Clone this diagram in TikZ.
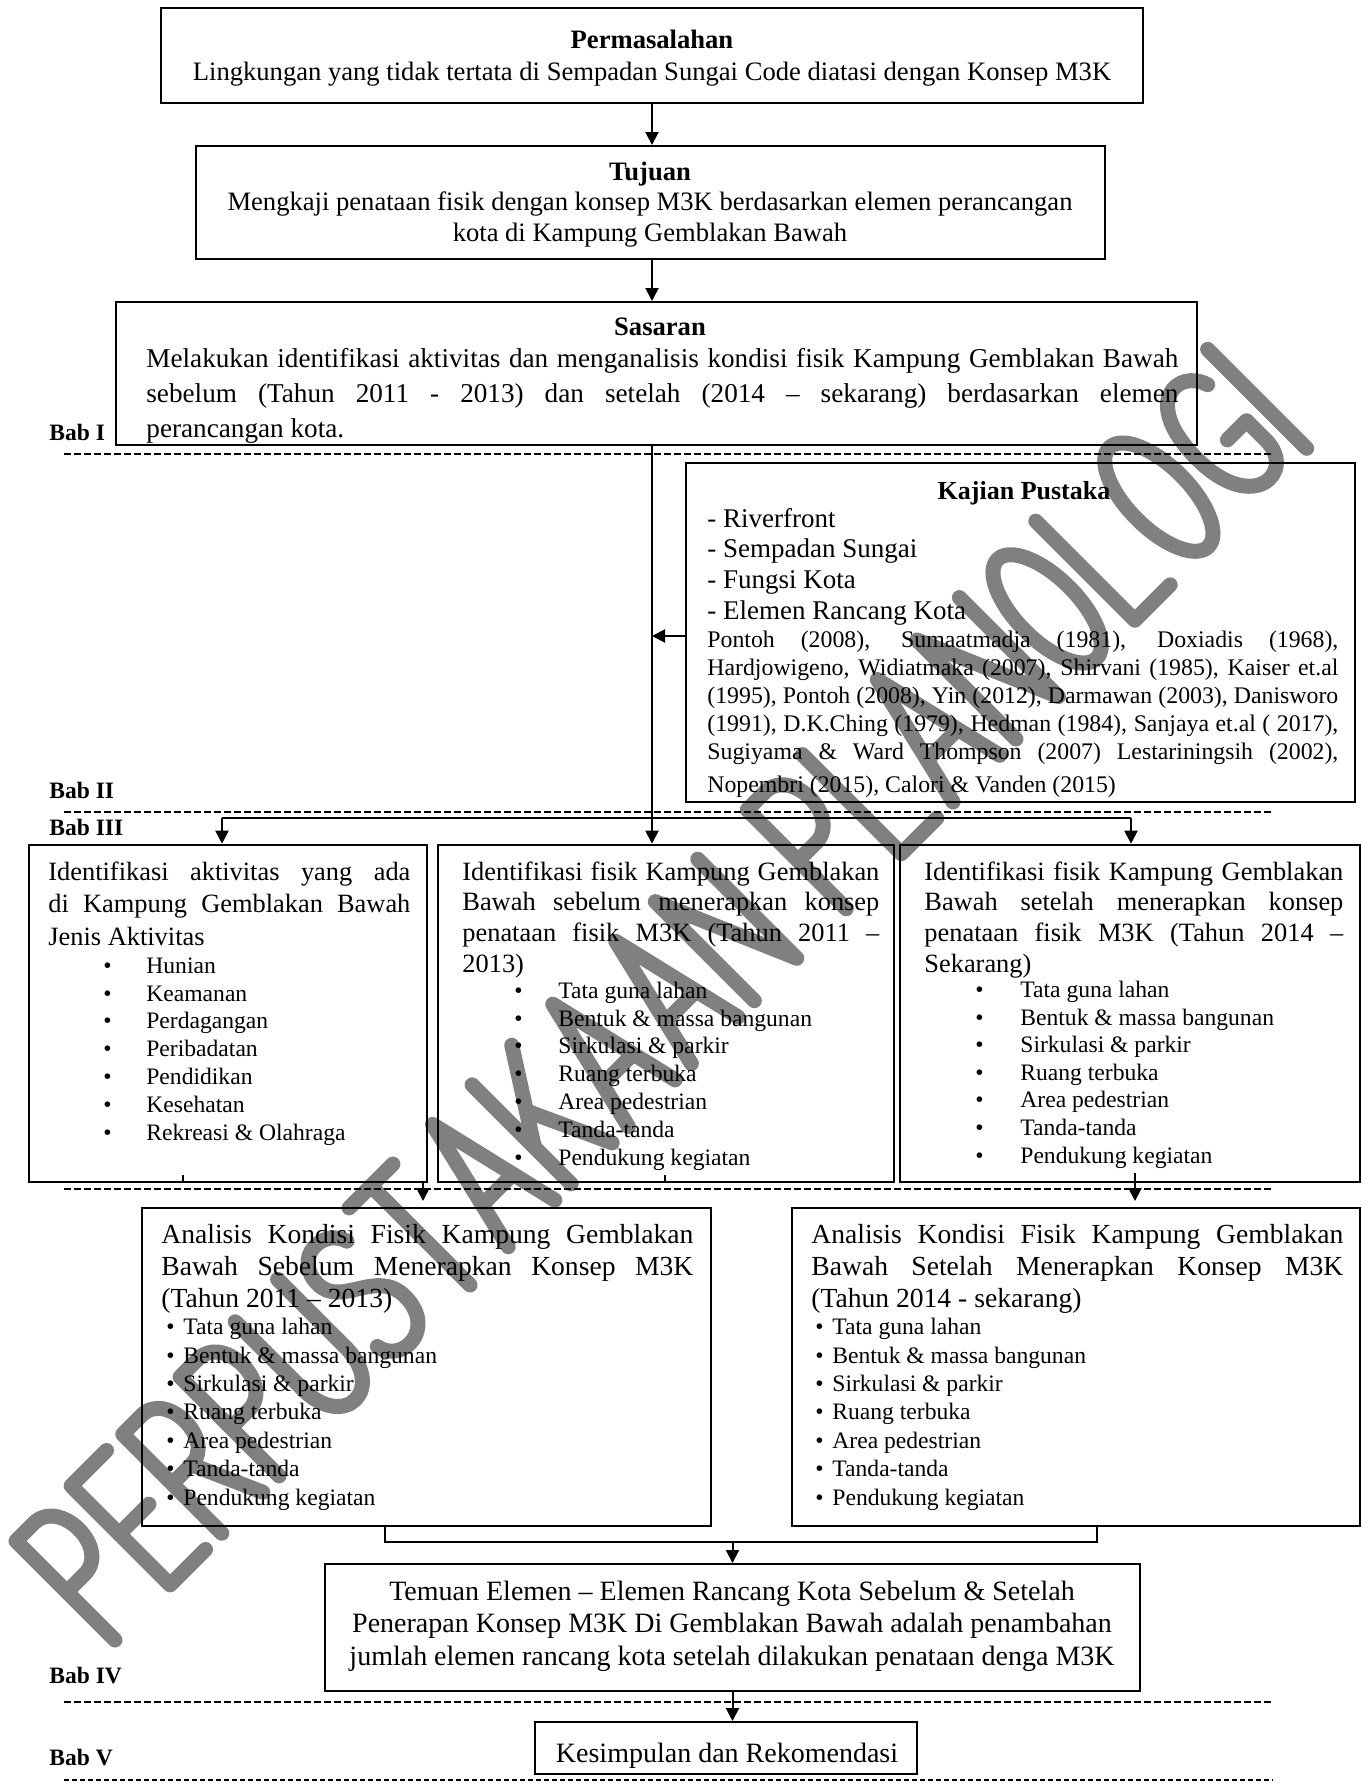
\documentclass[tikz,border=0pt]{standalone}
\usepackage{fontspec}
\setmainfont{Liberation Serif}
\usetikzlibrary{arrows.meta,fit}
\newcommand\J[2]{\makebox[#1][s]{#2}}
\newcommand\fz[2]{\fontsize{#1}{#2}\selectfont}
\newcommand\bl[1]{\makebox[#1][l]{•}}
\tikzset{
  wm/.style={draw=gray, line width=7.5pt, line cap=round, line join=round},
  box/.style={draw, line width=1pt, inner sep=0pt},
  tbox/.style={draw, line width=1.3pt, inner sep=0pt},
  arr/.style={line width=1pt, -{Triangle[length=6.5pt,width=6.5pt]}},
  ln/.style={line width=1pt},
  dashline/.style={line width=1pt, dash pattern=on 3.3pt off 1.7pt},
  txt/.style={inner sep=0pt, align=left},
  bab/.style={inner sep=0pt, anchor=base west, font=\bfseries\fz{11.75}{14}}
}
\newcommand\wmP{\draw[wm] (0,0)--(0,140)--(25,140) .. controls (62,140) and (62,68) .. (25,68) -- (0,68);}
\newcommand\wmE{\draw[wm] (50,140)--(0,140)--(0,0)--(50,0); \draw[wm] (0,72)--(42,72);}
\newcommand\wmR{\draw[wm] (0,0)--(0,140)--(27,140) .. controls (62,140) and (62,70) .. (27,70) -- (0,70); \draw[wm] (27,70)--(58,0);}
\newcommand\wmU{\draw[wm] (0,140)--(0,45) .. controls (0,-15) and (60,-15) .. (60,45) -- (60,140);}
\newcommand\wmS{\draw[wm] (53,118) .. controls (45,145) and (2,145) .. (2,108) .. controls (2,75) and (55,78) .. (55,38) .. controls (55,-8) and (5,-8) .. (0,22);}
\newcommand\wmT{\draw[wm] (0,140)--(62,140); \draw[wm] (31,140)--(31,0);}
\newcommand\wmA{\draw[wm] (0,0)--(33,140)--(66,0); \draw[wm] (13,48)--(53,48);}
\newcommand\wmK{\draw[wm] (0,0)--(0,140); \draw[wm] (56,140)--(0,52); \draw[wm] (20,83)--(58,0);}
\newcommand\wmN{\draw[wm] (0,0)--(0,140)--(60,0)--(60,140);}
\newcommand\wmL{\draw[wm] (0,140)--(0,0)--(50,0);}
\newcommand\wmO{\draw[wm] (31,0) .. controls (48,0) and (62,31) .. (62,70) .. controls (62,109) and (48,140) .. (31,140) .. controls (14,140) and (0,109) .. (0,70) .. controls (0,31) and (14,0) .. (31,0) -- cycle;}
\newcommand\wmG{\draw[wm] (60,115) .. controls (50,148) and (0,150) .. (0,70) .. controls (0,-10) and (62,-10) .. (62,35) -- (62,62) -- (35,62);}
\newcommand\wmI{\draw[wm] (0,0)--(0,140);}
\newcommand\wmat[2]{\begin{scope}[shift={(#1,0)}]#2\end{scope}}
\begin{document}
\begin{tikzpicture}[x=0.5pt,y=-0.5pt]
\useasboundingbox (0,0) rectangle (1362,1783);
\fill[white] (0,0) rectangle (1362,1783);
% watermark
\begin{scope}[shift={(115,1640)}, x={(0.3536pt,0.3536pt)}, y={(-0.3536pt,0.3536pt)}]
\wmat{0}{\wmP}\wmat{78}{\wmE}\wmat{151}{\wmR}\wmat{232}{\wmP}\wmat{310}{\wmU}
\wmat{393}{\wmS}\wmat{471}{\wmT}\wmat{556}{\wmA}\wmat{645}{\wmK}\wmat{726}{\wmA}
\wmat{815}{\wmA}\wmat{904}{\wmN}
\wmat{1034}{\wmP}\wmat{1112}{\wmL}\wmat{1185}{\wmA}\wmat{1274}{\wmN}\wmat{1357}{\wmO}
\wmat{1442}{\wmL}\wmat{1515}{\wmO}\wmat{1600}{\wmG}\wmat{1685}{\wmI}
\end{scope}

% dashed separators
\coordinate (dl1) at (64,454); \coordinate (dr1) at (1273,454);
\coordinate (dl2) at (64,812); \coordinate (dr2) at (1273,812);
\coordinate (dl3) at (64,1189); \coordinate (dr3) at (1273,1189);
\coordinate (dl4) at (64,1702); \coordinate (dr4) at (1273,1702);
\coordinate (dl5) at (64,1780); \coordinate (dr5) at (1273,1780);
\draw[dashline] (dl1) -- (dr1);
\draw[dashline] (dl2) -- (dr2);
\draw[dashline] (dl3) -- (dr3);
\draw[dashline] (dl4) -- (dr4);
\draw[line width=0.7pt, dash pattern=on 2.5pt off 1.5pt] (dl5) -- (dr5);

% Bab labels
\node[bab] (b1) at (49,440) {Bab I};
\node[bab] (b2) at (49,798) {Bab II};
\node[bab] (b3) at (49,835) {Bab III};
\node[bab] (b4) at (49,1683) {Bab IV};
\node[bab] (b5) at (49,1765) {Bab V};

% Permasalahan
\node[box, fit={(161,8) (1143,103)}] (perm) {};
\node[txt, align=center, anchor=base, font=\fz{13.3}{16}] (permt) at (652,80)
  {\textbf{Permasalahan}\\Lingkungan yang tidak tertata di Sempadan Sungai Code diatasi dengan Konsep M3K};

% Tujuan
\node[box, fit={(196,146) (1105,259)}] (tuj) {};
\node[txt, align=center, anchor=base, font=\fz{13.3}{15.25}] (tujt) at (650,241)
  {\textbf{Tujuan}\\Mengkaji penataan fisik dengan konsep M3K berdasarkan elemen perancangan\\kota di Kampung Gemblakan Bawah};

% Sasaran
\node[box, fit={(116,302) (1197,445)}] (sas) {};
\node[txt, anchor=base, font=\bfseries\fz{13.3}{16}] (sast) at (660,335) {Sasaran};
\node[txt, anchor=base west, font=\fz{13.6}{17.5}] (sasb) at (146,437)
  {\J{516pt}{Melakukan identifikasi aktivitas dan menganalisis kondisi fisik Kampung Gemblakan Bawah}\\
   \J{516pt}{sebelum (Tahun 2011 - 2013) dan setelah (2014 – sekarang) berdasarkan elemen}\\
   perancangan kota.};

% Kajian Pustaka
\node[box, fit={(686,463) (1355,802)}] (kaj) {};
\node[txt, anchor=base, font=\bfseries\fz{13}{16}] (kajt) at (1024,499) {Kajian Pustaka};
\node[txt, anchor=base west, font=\fz{13.5}{15.3}] (kaji) at (707,619)
  {- Riverfront\\- Sempadan Sungai\\- Fungsi Kota\\- Elemen Rancang Kota};
\node[txt, anchor=base west, font=\fz{11.9}{14.1}] (kajr) at (707,792)
  {\J{315.5pt}{Pontoh (2008), Sumaatmadja (1981), Doxiadis (1968),}\\
   \J{315.5pt}{Hardjowigeno, Widiatmaka (2007), Shirvani (1985), Kaiser et.al}\\
   \J{315.5pt}{(1995), Pontoh (2008), Yin (2012), Darmawan (2003), Danisworo}\\
   \J{315.5pt}{(1991), D.K.Ching (1979), Hedman (1984), Sanjaya et.al ( 2017),}\\
   \J{315.5pt}{Sugiyama \& Ward Thompson (2007) Lestariningsih (2002),}\\[2pt]
   Nopembri (2015), Calori \& Vanden (2015)};

% Bab III boxes
\node[tbox, fit={(29,845) (427,1182)}] (lbox) {};
\node[tbox, fit={(438,845) (894,1182)}] (mbox) {};
\node[tbox, fit={(900,845) (1360,1182)}] (rbox) {};

\node[txt, anchor=base west, font=\fz{13.2}{16.25}] (lhead) at (48,945)
  {\J{181pt}{Identifikasi aktivitas yang ada}\\\J{181pt}{di Kampung Gemblakan Bawah}\\Jenis Aktivitas};
\node[txt, anchor=base west, font=\fz{11.8}{13.9}] (llist) at (103,1140)
  {\bl{21.5pt}Hunian\\\bl{21.5pt}Keamanan\\\bl{21.5pt}Perdagangan\\\bl{21.5pt}Peribadatan\\\bl{21.5pt}Pendidikan\\\bl{21.5pt}Kesehatan\\\bl{21.5pt}Rekreasi \& Olahraga};

\node[txt, anchor=base west, font=\fz{13.2}{15.3}] (mhead) at (462,972)
  {\J{208.5pt}{Identifikasi fisik Kampung Gemblakan}\\\J{208.5pt}{Bawah sebelum menerapkan konsep}\\\J{208.5pt}{penataan fisik M3K (Tahun 2011 –}\\2013)};
\node[txt, anchor=base west, font=\fz{11.8}{13.9}] (mlist) at (514,1165)
  {\bl{22pt}Tata guna lahan\\\bl{22pt}Bentuk \& massa bangunan\\\bl{22pt}Sirkulasi \& parkir\\\bl{22pt}Ruang terbuka\\\bl{22pt}Area pedestrian\\\bl{22pt}Tanda-tanda\\\bl{22pt}Pendukung kegiatan};

\node[txt, anchor=base west, font=\fz{13.2}{15.3}] (rhead) at (924,972)
  {\J{209.5pt}{Identifikasi fisik Kampung Gemblakan}\\\J{209.5pt}{Bawah setelah menerapkan konsep}\\\J{209.5pt}{penataan fisik M3K (Tahun 2014 –}\\Sekarang)};
\node[txt, anchor=base west, font=\fz{11.8}{13.8}] (rlist) at (975,1163)
  {\bl{22.5pt}Tata guna lahan\\\bl{22.5pt}Bentuk \& massa bangunan\\\bl{22.5pt}Sirkulasi \& parkir\\\bl{22.5pt}Ruang terbuka\\\bl{22.5pt}Area pedestrian\\\bl{22.5pt}Tanda-tanda\\\bl{22.5pt}Pendukung kegiatan};

% Analisis boxes
\node[box, fit={(142,1208) (711,1526)}] (anl) {};
\node[box, fit={(792,1208) (1360,1526)}] (anr) {};
\node[txt, anchor=base west, font=\fz{13.8}{16}] (anlh) at (161,1307)
  {\J{266pt}{Analisis Kondisi Fisik Kampung Gemblakan}\\\J{266pt}{Bawah Sebelum Menerapkan Konsep M3K}\\(Tahun 2011 – 2013)};
\node[txt, anchor=base west, font=\fz{11.8}{14.2}] (anll) at (166,1505)
  {\bl{8.5pt}Tata guna lahan\\\bl{8.5pt}Bentuk \& massa bangunan\\\bl{8.5pt}Sirkulasi \& parkir\\\bl{8.5pt}Ruang terbuka\\\bl{8.5pt}Area pedestrian\\\bl{8.5pt}Tanda-tanda\\\bl{8.5pt}Pendukung kegiatan};
\node[txt, anchor=base west, font=\fz{13.8}{16}] (anrh) at (811,1307)
  {\J{266pt}{Analisis Kondisi Fisik Kampung Gemblakan}\\\J{266pt}{Bawah Setelah Menerapkan Konsep M3K}\\(Tahun 2014 - sekarang)};
\node[txt, anchor=base west, font=\fz{11.8}{14.2}] (anrl) at (815,1505)
  {\bl{8.5pt}Tata guna lahan\\\bl{8.5pt}Bentuk \& massa bangunan\\\bl{8.5pt}Sirkulasi \& parkir\\\bl{8.5pt}Ruang terbuka\\\bl{8.5pt}Area pedestrian\\\bl{8.5pt}Tanda-tanda\\\bl{8.5pt}Pendukung kegiatan};

% Temuan
\node[box, fit={(325,1564) (1140,1691)}] (tem) {};
\node[txt, align=center, anchor=base, font=\fz{14}{16.25}] (temt) at (732,1665)
  {Temuan Elemen – Elemen Rancang Kota Sebelum \& Setelah\\Penerapan Konsep M3K Di Gemblakan Bawah adalah penambahan\\jumlah elemen rancang kota setelah dilakukan penataan denga M3K};

% Kesimpulan
\node[box, fit={(535,1722) (917,1774)}] (kes) {};
\node[txt, anchor=base, font=\fz{14}{16}] (kest) at (727,1762) {Kesimpulan dan Rekomendasi};

% connectors
\draw[arr] (perm.south) -- (perm.south |- tuj.north);
\draw[arr] (tuj.south -| perm.south) -- (perm.south |- sas.north);
\draw[arr] (perm.south |- sas.south) -- (perm.south |- mbox.north);
\coordinate (ky) at (0,636);
\draw[arr] (kaj.west |- ky) -- (perm.south |- ky);
\coordinate (hl) at (222,818); \coordinate (hr) at (1131,818);
\draw[ln] (hl) -- (hr);
\draw[arr] (hl) -- (hl |- lbox.north);
\draw[arr] (hr) -- (hr |- rbox.north);
\coordinate (t1) at (183,1175); \coordinate (t2) at (665,1175);
\draw[ln] (t1) -- (t1 |- lbox.south);
\draw[ln] (t2) -- (t2 |- mbox.south);
\coordinate (d1) at (423,1182); \coordinate (d2) at (1135,1173);
\draw[arr, shorten >=3pt] (d1) -- (d1 |- anl.north);
\draw[arr, shorten >=3pt] (d2) -- (d2 |- anr.north);
\coordinate (k1) at (385,1542); \coordinate (k2) at (1097,1542);
\draw[ln] (k1 |- anl.south) -- (k1) -- (k2) -- (k2 |- anr.south);
\draw[arr] (tem.north |- k1) -- (tem.north);
\draw[arr] (tem.south) -- (tem.south |- kes.north);
\end{tikzpicture}
\end{document}
